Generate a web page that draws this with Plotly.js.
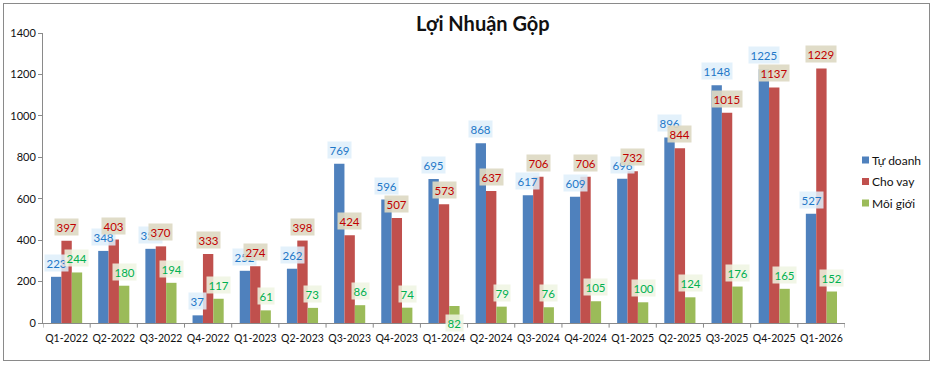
<!DOCTYPE html>
<html>
<head>
<meta charset="utf-8">
<script src="https://cdn.plot.ly/plotly-3.0.1.min.js"></script>
<style>
  html, body { margin: 0; padding: 0; background: #fff; }
  #wrap { position: relative; width: 934px; height: 366px; }
  #chart { width: 934px; height: 366px; }
  #frame { position: absolute; left: 3px; top: 3px; width: 927px; height: 358px;
           border: 1.5px solid #8a8a8a; pointer-events: none; box-sizing: border-box; }
</style>
</head>
<body>
<div id="wrap">
  <div id="chart"></div>
  <div id="frame"></div>
</div>
<script>
const quarters = ["Q1-2022","Q2-2022","Q3-2022","Q4-2022","Q1-2023","Q2-2023","Q3-2023","Q4-2023",
                  "Q1-2024","Q2-2024","Q3-2024","Q4-2024","Q1-2025","Q2-2025","Q3-2025","Q4-2025","Q1-2026"];
const tuDoanh = [223, 348, 358, 37, 252, 262, 769, 596, 695, 868, 617, 609, 696, 896, 1148, 1225, 527];
const choVay  = [397, 403, 370, 333, 274, 398, 424, 507, 573, 637, 706, 706, 732, 844, 1015, 1137, 1229];
const moiGioi = [244, 180, 194, 117, 61, 73, 86, 74, 82, 79, 76, 105, 100, 124, 176, 165, 152];
const yTicks = [0, 200, 400, 600, 800, 1000, 1200, 1400];

const FONT = "Lato, 'Open Sans', 'DejaVu Sans', sans-serif";
const series = [
  {name: "Tự doanh", vals: tuDoanh, color: "#4f81bd", txt: "#1f78c8", bg: "rgba(222,238,250,0.85)"},
  {name: "Cho vay",  vals: choVay,  color: "#c0504d", txt: "#c00000", bg: "rgba(221,217,195,0.92)"},
  {name: "Môi giới", vals: moiGioi, color: "#9bbb59", txt: "#00b050", bg: "rgba(238,244,226,0.85)"}
];

const W = 934, H = 366;
const M = {l: 43, r: 89, t: 33, b: 43};
const PW = W - M.l - M.r, PH = H - M.t - M.b;
const px2x = px => (px - M.l) / PW;
const py2y = py => (H - M.b - py) / PH;

const bargap = 0.34;
const barW = (1 - bargap) / 3;
const xIdx = quarters.map((q, i) => i);

const traces = series.map(s => ({
  type: "bar",
  name: s.name,
  x: xIdx,
  y: s.vals,
  marker: {color: s.color},
  showlegend: false,
  hoverinfo: "y+name"
}));

// label placement overrides (pixels) for specific labels
const yShiftOverride = {"2-8": -17};

const annotations = [];
series.forEach((s, si) => {
  s.vals.forEach((v, i) => {
    const key = si + "-" + i;
    annotations.push({
      x: i + (si - 1) * barW,
      y: v,
      xref: "x", yref: "y",
      text: String(v),
      showarrow: false,
      yanchor: "middle",
      yshift: key in yShiftOverride ? yShiftOverride[key] : 14,
      font: {family: FONT, size: 11.5, color: s.txt},
      bgcolor: s.bg,
      borderpad: 1.5
    });
  });
});

// legend drawn to match the small-square Excel-style legend
const shapes = xIdx.concat([quarters.length]).map(i => ({
  type: "line", xref: "x", yref: "paper",
  x0: i - 0.5, x1: i - 0.5, y0: 0, y1: -0.016,
  line: {color: "#8a8a8a", width: 1}
}));
series.forEach((s, si) => {
  const cy = 160 + si * 21.5;
  shapes.push({
    type: "rect", xref: "paper", yref: "paper",
    x0: px2x(862), x1: px2x(869), y0: py2y(cy + 3.5), y1: py2y(cy - 3.5),
    fillcolor: s.color, line: {width: 0}
  });
  annotations.push({
    xref: "paper", yref: "paper",
    x: px2x(870), y: py2y(cy), xanchor: "left", yanchor: "middle",
    text: s.name, showarrow: false,
    font: {family: FONT, size: 12, color: "#111"}
  });
});

const layout = {
  width: W, height: H,
  margin: M,
  paper_bgcolor: "#ffffff",
  plot_bgcolor: "#ffffff",
  font: {family: FONT, size: 11, color: "#222"},
  showlegend: false,
  title: {
    text: "<b>Lợi Nhuận Gộp</b>",
    font: {family: FONT, size: 20, color: "#111"},
    x: 0.517, xref: "container", xanchor: "center",
    y: 0.935, yref: "container", yanchor: "middle"
  },
  barmode: "group",
  bargap: bargap,
  bargroupgap: 0,
  xaxis: {
    type: "linear",
    range: [-0.5, quarters.length - 0.5],
    tickmode: "array",
    tickvals: xIdx,
    ticktext: quarters,
    tickangle: 0,
    ticks: "",
    ticklabelstandoff: 5,
    showgrid: false,
    zeroline: false,
    showline: true,
    linecolor: "#8a8a8a",
    linewidth: 1,
    tickfont: {family: FONT, size: 10.5, color: "#111"},
    fixedrange: true
  },
  yaxis: {
    range: [0, 1400],
    tickmode: "array",
    tickvals: yTicks,
    ticks: "outside",
    ticklen: 4,
    tickcolor: "#8a8a8a",
    showgrid: false,
    zeroline: false,
    showline: true,
    linecolor: "#8a8a8a",
    linewidth: 1,
    tickfont: {family: FONT, size: 11, color: "#111"},
    fixedrange: true
  },
  shapes: shapes,
  annotations: annotations
};

Plotly.newPlot("chart", traces, layout, {displayModeBar: false, staticPlot: true});
</script>
</body>
</html>
